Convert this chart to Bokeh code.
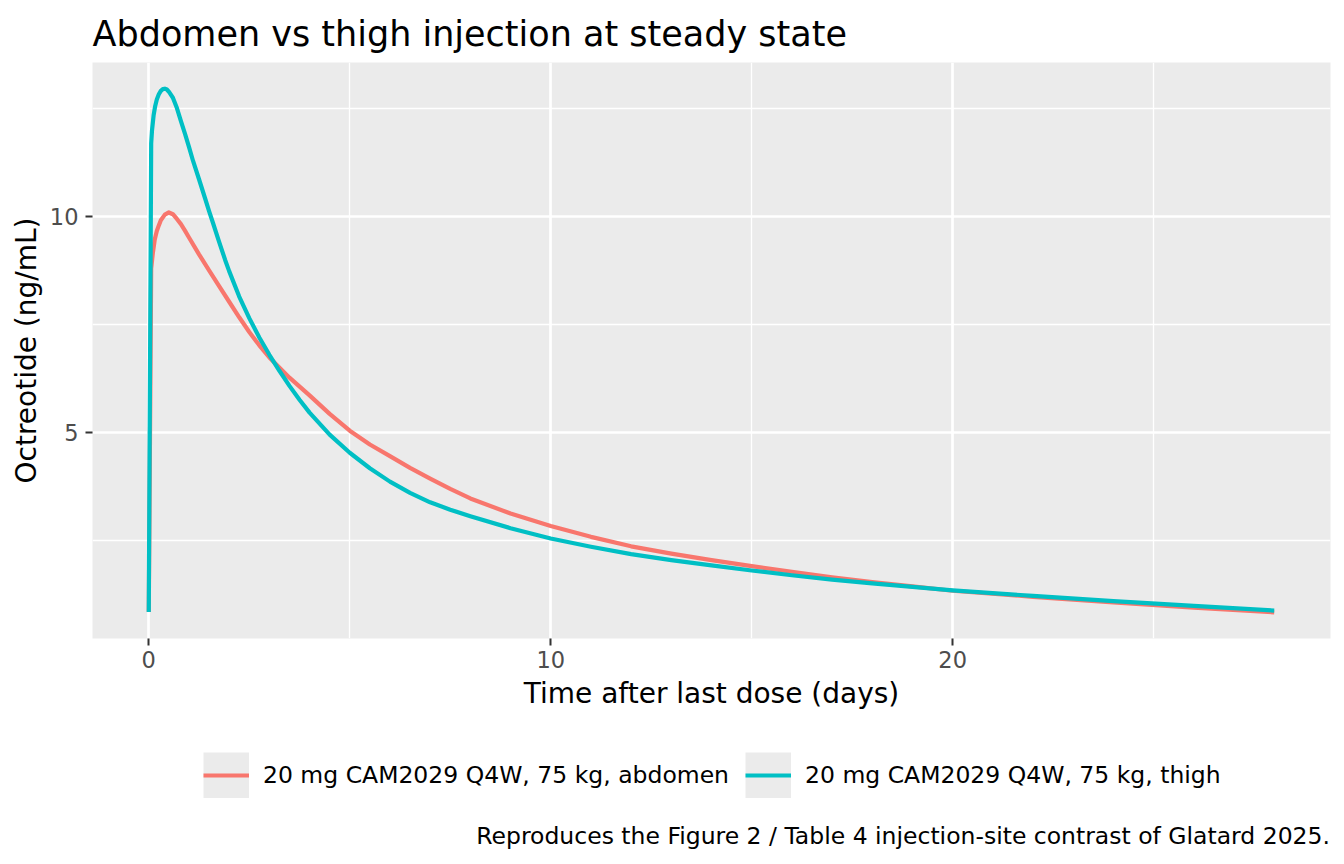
from bokeh.plotting import figure
from bokeh.models import Range1d, FixedTicker, Legend, LegendItem
from bokeh.layouts import column
from bokeh.embed import file_html
from bokeh.resources import INLINE

# ---- data ----
t_abdomen = [0, 0.06, 0.1, 0.15, 0.2, 0.25, 0.3, 0.4, 0.5, 0.6, 0.7, 0.8, 0.9, 1.0, 1.25, 1.5,
             1.75, 2.0, 2.25, 2.5, 2.75, 3.0, 3.5, 4.0, 4.5, 5, 5.5, 6, 6.5, 7, 7.5, 8, 9, 10,
             11, 12, 13, 14, 15, 16, 17, 18, 19, 20, 22, 24, 26, 28]
abdomen = [0.84, 8.8, 9.15, 9.48, 9.67, 9.8, 9.92, 10.05, 10.1, 10.06, 9.95, 9.83, 9.68, 9.52,
           9.13, 8.76, 8.39, 8.03, 7.67, 7.33, 7.02, 6.74, 6.27, 5.86, 5.43, 5.04, 4.72, 4.45,
           4.18, 3.93, 3.69, 3.47, 3.12, 2.83, 2.58, 2.36, 2.19, 2.04, 1.90, 1.77, 1.64, 1.53,
           1.43, 1.33, 1.19, 1.06, 0.94, 0.83]

t_thigh = [0, 0.06, 0.08, 0.12, 0.16, 0.2, 0.25, 0.3, 0.35, 0.4, 0.45, 0.5, 0.6, 0.7, 0.8, 0.9,
           1.0, 1.1, 1.25, 1.4, 1.5, 1.6, 1.75, 1.9, 2.0, 2.25, 2.5, 2.75, 3.0, 3.25, 3.5, 3.75,
           4.0, 4.5, 5, 5.5, 6, 6.5, 7, 7.5, 8, 9, 10, 11, 12, 13, 14, 15, 16, 17, 18, 19, 20,
           22, 24, 26, 28]
thigh = [0.84, 11.7, 12.0, 12.35, 12.57, 12.72, 12.84, 12.92, 12.96, 12.97, 12.95, 12.9, 12.76,
         12.52, 12.22, 11.93, 11.62, 11.3, 10.87, 10.43, 10.13, 9.85, 9.42, 9.0, 8.74, 8.15,
         7.65, 7.2, 6.8, 6.43, 6.08, 5.76, 5.46, 4.95, 4.53, 4.17, 3.86, 3.6, 3.38, 3.21, 3.06,
         2.78, 2.54, 2.35, 2.18, 2.04, 1.92, 1.80, 1.69, 1.59, 1.50, 1.42, 1.34, 1.21, 1.09,
         0.98, 0.87]

series_labels = ["20 mg CAM2029 Q4W, 75 kg, abdomen", "20 mg CAM2029 Q4W, 75 kg, thigh"]
series_colors = ["#F8766D", "#00BFC4"]

x_ticks = [0, 10, 20]
x_minor = [-5, 5, 15, 25]
y_ticks = [5, 10]
y_minor = [2.5, 7.5, 12.5]

title_text = "Abdomen vs thigh injection at steady state"
x_label = "Time after last dose (days)"
y_label = "Octreotide (ng/mL)"
caption_text = "Reproduces the Figure 2 / Table 4 injection-site contrast of Glatard 2025."

# ---- ranges with ggplot-like 5% expansion ----
all_t = t_abdomen + t_thigh
all_y = abdomen + thigh
tx0, tx1 = min(all_t), max(all_t)
vy0, vy1 = min(all_y), max(all_y)
ex = 0.05 * (tx1 - tx0)
ey = 0.05 * (vy1 - vy0)

FONT = "DejaVu Sans"
W = 1336

# ---------------- main plot ----------------
p = figure(frame_width=1238, frame_height=576,
           min_border_left=92, min_border_right=6, min_border_top=62, min_border_bottom=82,
           x_range=Range1d(tx0 - ex, tx1 + ex), y_range=Range1d(vy0 - ey, vy1 + ey),
           output_backend="svg", toolbar_location=None)

p.background_fill_color = "#EBEBEB"
p.border_fill_color = "white"
p.outline_line_color = None

p.title.text = title_text
p.title.text_font = FONT
p.title.text_font_size = "35px"
p.title.text_font_style = "normal"
p.title.text_color = "black"
p.title.align = "left"
p.title.standoff = 18

p.xaxis.ticker = FixedTicker(ticks=x_ticks, minor_ticks=x_minor)
p.yaxis.ticker = FixedTicker(ticks=y_ticks, minor_ticks=y_minor)

for ax in (p.xaxis[0], p.yaxis[0]):
    ax.axis_line_color = None
    ax.major_tick_line_color = "#333333"
    ax.major_tick_line_width = 2
    ax.major_tick_out = 7
    ax.major_tick_in = 0
    ax.minor_tick_line_color = None
    ax.major_label_text_font = FONT
    ax.major_label_text_font_size = "22.5px"
    ax.major_label_text_color = "#4D4D4D"
    ax.axis_label_text_font = FONT
    ax.axis_label_text_font_size = "28px"
    ax.axis_label_text_font_style = "normal"
    ax.axis_label_text_color = "black"

p.xaxis.axis_label = x_label
p.yaxis.axis_label = y_label
p.xaxis.major_label_standoff = 5
p.yaxis.major_label_standoff = 7
p.xaxis.axis_label_standoff = 6
p.yaxis.axis_label_standoff = 4

for g in (p.xgrid[0], p.ygrid[0]):
    g.grid_line_color = "white"
    g.grid_line_width = 2.7
    g.minor_grid_line_color = "white"
    g.minor_grid_line_width = 1.35

p.line(t_abdomen, abdomen, line_color=series_colors[0], line_width=4.2, line_join="round")
p.line(t_thigh, thigh, line_color=series_colors[1], line_width=4.2, line_join="round")

# ---------------- legend + caption strip ----------------
H2 = 136
q = figure(frame_width=W, frame_height=H2, min_border=0,
           x_range=Range1d(0, W), y_range=Range1d(0, H2),
           x_axis_location=None, y_axis_location=None,
           output_backend="svg", toolbar_location=None)
q.grid.visible = False
q.outline_line_color = None
q.background_fill_color = "white"
q.border_fill_color = "white"

items = []
for lab, col, tt, yy in zip(series_labels, series_colors, (t_abdomen, t_thigh), (abdomen, thigh)):
    # single-point lines: nothing is drawn on the canvas, only the legend keys
    bg = q.line(tt[:1], yy[:1], line_color="#EBEBEB", line_width=46)
    fg = q.line(tt[:1], yy[:1], line_color=col, line_width=4.2)
    items.append(LegendItem(label=lab, renderers=[bg, fg]))

legend = Legend(items=items, orientation="horizontal", location=(203, 58))
legend.glyph_width = 46
legend.glyph_height = 46
legend.label_standoff = 14
legend.spacing = 16
legend.padding = 0
legend.margin = 0
legend.label_text_font = FONT
legend.label_text_font_size = "23.5px"
legend.label_text_color = "black"
legend.background_fill_alpha = 0
legend.border_line_color = None
q.add_layout(legend, "center")

# caption: a text-only legend entry anchored at the bottom right
cap_r = q.line(t_abdomen[:1], abdomen[:1], line_alpha=0)
caption = Legend(items=[LegendItem(label=caption_text, renderers=[cap_r])],
                 location="bottom_right")
caption.glyph_width = 1
caption.glyph_height = 28
caption.label_height = 28
caption.label_standoff = 0
caption.padding = 0
caption.margin = 6
caption.label_text_font = FONT
caption.label_text_font_size = "23.5px"
caption.label_text_color = "black"
caption.background_fill_alpha = 0
caption.border_line_color = None
caption.inactive_fill_alpha = 0
q.add_layout(caption, "center")

open("out.html", "w").write(file_html(column(p, q, spacing=0), INLINE))
